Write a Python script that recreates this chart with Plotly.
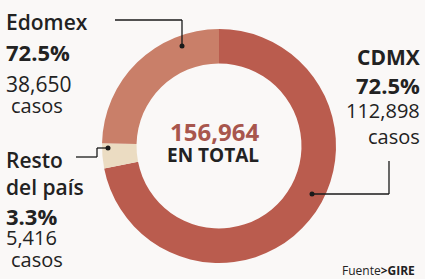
import plotly.graph_objects as go

W, H = 425, 279

# Data
regions = ["CDMX", "Resto del país", "Edomex"]
cases = [112898, 5416, 38650]
pct_labels = ["72.5%", "3.3%", "72.5%"]
case_labels = ["112,898", "5,416", "38,650"]
total_label = "156,964"
colors = ["#ba5c4e", "#ebdcc2", "#c97f69"]

FONT = "Open Sans"
DARK = "#222222"

def px(x):
    return x / W

def py(y):
    return 1 - y / H

cx, cy, R = 219, 146, 117
hole = 0.705

fig = go.Figure()
fig.add_trace(go.Pie(
    labels=regions, values=cases, sort=False, direction="clockwise", rotation=0,
    hole=hole, textinfo="none", hoverinfo="label+value+percent",
    marker=dict(colors=colors, line=dict(width=0)),
    domain=dict(x=[px(cx - R), px(cx + R)], y=[py(cy + R), py(cy - R)]),
    showlegend=False,
))

annotations = []

def txt(text, x, baseline, size, weight=400, color=DARK, anchor="left"):
    annotations.append(dict(
        text=text, x=px(x), y=py(baseline - 0.36 * size), xref="paper", yref="paper",
        xanchor=anchor, yanchor="middle", showarrow=False, borderpad=0,
        font=dict(family=FONT, size=size, color=color, weight=weight),
    ))

# Edomex block
txt("Edomex", 5, 30, 21, 600)
txt(pct_labels[2], 5, 60, 22, 700)
txt(case_labels[2], 5, 92, 21)
txt("casos", 10, 113, 20)

# CDMX block (right-aligned)
txt("CDMX", 421, 65, 21, 700, anchor="right")
txt(pct_labels[0], 421, 93, 22, 700, anchor="right")
txt(case_labels[0], 421, 118, 20, anchor="right")
txt("casos", 421, 144, 20, anchor="right")

# Resto block
txt("Resto", 5, 168, 21, 600)
txt("del país", 5, 195, 21, 600)
txt(pct_labels[1], 5, 224, 22, 700)
txt(case_labels[1], 5, 245, 20)
txt("casos", 10, 267, 20)

# Center
txt(total_label, 214, 140, 24, 700, color="#a8564d", anchor="center")
txt("EN TOTAL", 213, 162, 19, 700, anchor="center")

# Source
annotations.append(dict(
    text="Fuente<b>&gt;GIRE</b>", x=px(417), y=py(270), xref="paper", yref="paper",
    xanchor="right", yanchor="middle", showarrow=False,
    font=dict(family=FONT, size=12, color=DARK),
))

shapes = []

def seg(x0, y0, x1, y1):
    shapes.append(dict(type="line", xref="paper", yref="paper",
                       x0=px(x0), y0=py(y0), x1=px(x1), y1=py(y1),
                       line=dict(color="#1a1a1a", width=1.3)))

def dot(x, y, r=2.5):
    shapes.append(dict(type="circle", xref="paper", yref="paper",
                       x0=px(x - r), x1=px(x + r), y0=py(y + r), y1=py(y - r),
                       fillcolor="#1a1a1a", line=dict(width=0)))

# Edomex leader
seg(115, 20, 182, 20)
seg(182, 20, 182, 46)
dot(182, 46)
# Resto leader
seg(76, 157, 97, 157)
seg(97, 157, 97, 148)
seg(97, 148, 108, 148)
dot(108, 148)
# CDMX leader
seg(312, 194, 389, 194)
seg(389, 194, 389, 161)
dot(312, 194)

fig.update_layout(
    width=W, height=H, margin=dict(l=0, r=0, t=0, b=0),
    paper_bgcolor="#faf8f7", plot_bgcolor="#faf8f7",
    annotations=annotations, shapes=shapes,
)

fig.write_html(
    "out.html",
    config={"displayModeBar": False},
    post_script="document.body.style.margin='0';document.body.style.overflow='hidden';",
)
